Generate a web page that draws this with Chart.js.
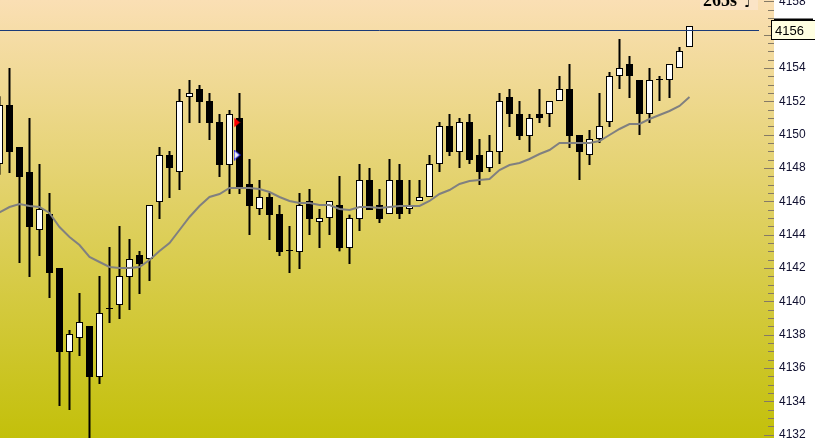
<!DOCTYPE html>
<html>
<head>
<meta charset="utf-8">
<script src="https://cdn.jsdelivr.net/npm/chart.js@4"></script>
<style>
  html, body { margin: 0; padding: 0; background: #ffffff; }
  #wrap { width: 815px; height: 438px; }
</style>
</head>
<body>
<div id="wrap"><canvas id="chart" width="815" height="438"></canvas></div>
<script>
// Candle data, one entry per bar
const opens = [4148.24, 4151.78, 4149.26, 4147.76, 4144.28, 4145.24, 4142.0, 4136.96, 4137.8, 4138.52,
    4135.46, 4139.54, 4139.78, 4141.46, 4142.78, 4142.54, 4145.96, 4148.78, 4147.76, 4152.26,
    4152.74, 4152.02, 4150.76, 4148.18, 4151.0, 4147.04, 4145.54, 4146.26, 4145.24, 4143.02,
    4142.96, 4146.02, 4144.76, 4145.0, 4145.78, 4143.2, 4144.94, 4147.28, 4145.78, 4145.24,
    4147.28, 4145.54, 4146.02, 4146.26, 4148.24, 4150.52, 4148.96, 4150.76, 4148.78, 4148.0,
    4148.96, 4152.26, 4151.24, 4149.92, 4151.24, 4151.24, 4152.02, 4152.74, 4149.98, 4148.78,
    4149.74, 4150.76, 4153.52, 4154.24, 4153.28, 4151.24, 4153.28, 4153.28, 4154.0, 4155.26];
const highs = [4152.3, 4154.0, 4149.26, 4151.0, 4148.24, 4146.5, 4142.0, 4138.28, 4140.5, 4138.52,
    4141.52, 4143.26, 4144.52, 4143.74, 4143.02, 4145.78, 4149.26, 4149.02, 4152.74, 4153.28,
    4152.98, 4152.5, 4151.24, 4151.48, 4152.5, 4148.54, 4147.28, 4146.5, 4145.78, 4144.52,
    4146.5, 4146.74, 4145.54, 4146.02, 4147.52, 4145.2, 4148.24, 4148.0, 4146.74, 4148.54,
    4148.24, 4147.28, 4147.28, 4148.78, 4150.76, 4151.24, 4151.0, 4151.24, 4149.74, 4149.98,
    4152.5, 4152.74, 4152.02, 4151.24, 4152.74, 4152.02, 4153.52, 4154.24, 4149.98, 4150.28,
    4152.5, 4153.76, 4155.74, 4154.72, 4153.28, 4154.0, 4153.52, 4154.24, 4155.26, 4156.52];
const lows = [4147.6, 4147.7, 4142.3, 4141.46, 4142.72, 4140.2, 4133.72, 4133.48, 4136.72, 4131.0,
    4135.04, 4138.7, 4138.94, 4139.48, 4140.44, 4141.22, 4144.94, 4146.2, 4146.68, 4150.7,
    4150.7, 4149.68, 4147.46, 4146.44, 4146.44, 4143.98, 4145.18, 4143.68, 4142.72, 4141.7,
    4141.94, 4143.98, 4143.2, 4143.98, 4143.0, 4142.24, 4144.22, 4145.48, 4144.7, 4145.24,
    4144.94, 4145.24, 4146.02, 4146.26, 4147.76, 4148.72, 4148.0, 4148.24, 4146.98, 4147.76,
    4148.24, 4150.46, 4149.68, 4148.96, 4150.7, 4150.46, 4152.02, 4149.2, 4147.28, 4148.18,
    4149.5, 4150.46, 4152.74, 4152.2, 4149.98, 4150.7, 4152.02, 4152.2, 4154.0, 4155.26];
const closes = [4151.78, 4148.96, 4147.46, 4144.46, 4145.54, 4141.7, 4136.96, 4138.04, 4138.76, 4135.46,
    4139.3, 4139.54, 4141.52, 4142.54, 4142.24, 4145.78, 4148.78, 4148.0, 4152.02, 4152.5,
    4151.96, 4150.7, 4148.18, 4151.24, 4146.74, 4145.72, 4146.26, 4145.18, 4142.96, 4143.02,
    4145.78, 4144.94, 4145.0, 4146.02, 4143.2, 4145.0, 4147.28, 4145.48, 4144.94, 4147.28,
    4145.24, 4145.78, 4146.26, 4148.24, 4150.52, 4148.96, 4150.76, 4148.48, 4147.76, 4149.02,
    4152.02, 4151.24, 4149.92, 4151.0, 4151.0, 4152.02, 4152.74, 4149.92, 4148.96, 4149.74,
    4150.52, 4153.52, 4154.0, 4153.52, 4151.24, 4153.28, 4153.28, 4154.24, 4155.02, 4156.52];

// Moving average (grey line)
const movingAvg = [4145.33, 4145.66, 4145.84, 4145.72, 4145.66, 4145.3, 4144.46, 4143.86, 4143.38, 4142.66,
    4142.36, 4142.06, 4142.0, 4142.0, 4142.06, 4142.48, 4143.02, 4143.5, 4144.28, 4145.06,
    4145.72, 4146.26, 4146.44, 4146.8, 4146.8, 4146.8, 4146.74, 4146.56, 4146.26, 4146.02,
    4145.9, 4145.9, 4145.78, 4145.78, 4145.54, 4145.48, 4145.66, 4145.66, 4145.6, 4145.66,
    4145.72, 4145.72, 4145.72, 4146.02, 4146.44, 4146.68, 4147.04, 4147.22, 4147.28, 4147.34,
    4147.88, 4148.18, 4148.3, 4148.54, 4148.84, 4149.08, 4149.5, 4149.5, 4149.5, 4149.5,
    4149.62, 4149.98, 4150.34, 4150.64, 4150.64, 4150.94, 4151.18, 4151.42, 4151.72, 4152.26];

// Signal markers (sell = red, buy = blue)
const sellSignalX = [23.75];
const sellSignalY = [4150.73];
const buySignalX = [23.75];
const buySignalY = [4148.78];

// Price axis labels and current price
const priceTicks = [4132, 4134, 4136, 4138, 4140, 4142, 4144, 4146, 4148, 4150, 4152, 4154, 4156, 4158];
const lastPrice = 4156.25;
const lastPriceLabel = '4156';
const timerText = '265s';

// Triangle markers drawn as little canvases
function makeTriangle(fill, stroke) {
    const c = document.createElement('canvas');
    c.width = 7;
    c.height = 11;
    const g = c.getContext('2d');
    g.beginPath();
    g.moveTo(0.5, 0.5);
    g.lineTo(6.5, 5.5);
    g.lineTo(0.5, 10.5);
    g.closePath();
    if (fill) { g.fillStyle = fill; g.fill(); }
    if (stroke) { g.strokeStyle = stroke; g.lineWidth = 1; g.stroke(); }
    return c;
}

const bodies = opens.map((o, i) => ({ x: i, y: [o, closes[i]] }));
const wicks = lows.map((l, i) => ({ x: i, y: [l, highs[i]] }));
const bodyColors = opens.map((o, i) => closes[i] > o ? '#ffffff' : '#000000');

// Background, price ticks, price line and timer box
const decorPlugin = {
    id: 'decor',
    beforeDraw(chart) {
        const ctx = chart.ctx;
        const area = chart.chartArea;
        ctx.save();
        ctx.fillStyle = '#ffffff';
        ctx.fillRect(0, 0, chart.width, chart.height);
        const grad = ctx.createLinearGradient(0, 0, 0, chart.height);
        grad.addColorStop(0, '#fadfb4');
        grad.addColorStop(1, '#c3c00a');
        ctx.fillStyle = grad;
        ctx.fillRect(0, 0, area.right + 10, chart.height);
        ctx.restore();
    },
    afterDraw(chart) {
        const ctx = chart.ctx;
        const area = chart.chartArea;
        const y = chart.scales.y;
        ctx.save();

        // tick marks every 0.5
        ctx.strokeStyle = '#857a66';
        ctx.lineWidth = 1;
        for (let v = Math.ceil(y.min * 2) / 2; v <= y.max; v += 0.5) {
            const py = Math.round(y.getPixelForValue(v)) + 0.5;
            const major = Math.abs(v % 2) < 0.01;
            ctx.beginPath();
            ctx.moveTo(area.right + (major ? 0 : 4), py);
            ctx.lineTo(area.right + 10, py);
            ctx.stroke();
        }

        // current price line
        const py = Math.round(y.getPixelForValue(lastPrice)) + 0.5;
        ctx.strokeStyle = '#1b3a78';
        ctx.beginPath();
        ctx.moveTo(0, py);
        ctx.lineTo(area.right - 5, py);
        ctx.stroke();

        // current price box
        ctx.fillStyle = '#ffffe1';
        ctx.fillRect(area.right + 7, py - 10, 50, 19);
        ctx.strokeStyle = '#000000';
        ctx.strokeRect(area.right + 7.5, py - 10, 50, 19);
        ctx.fillStyle = '#000000';
        ctx.fillRect(area.right + 10, py - 12, 39, 2);
        ctx.font = '13px "Liberation Sans", Arial, sans-serif';
        ctx.textBaseline = 'middle';
        ctx.textAlign = 'left';
        ctx.fillText(lastPriceLabel, area.right + 11, py + 0.5);

        // timer text at the top
        ctx.fillStyle = '#fbe4c6';
        ctx.fillRect(area.right - 64, 0, 58, 10);
        ctx.fillStyle = '#000000';
        ctx.font = 'bold 18px "Liberation Serif", "Times New Roman", serif';
        ctx.textBaseline = 'alphabetic';
        ctx.fillText(timerText, area.right - 61, 6);
        ctx.font = '14px "DejaVu Sans", sans-serif';
        ctx.fillText('\u2669', area.right - 20, 7);

        ctx.restore();
    }
};

const ctx = document.getElementById('chart').getContext('2d');
const chart = new Chart(ctx, {
    type: 'bar',
    data: {
        datasets: [{
            label: 'Wicks',
            data: wicks,
            backgroundColor: '#000000',
            barThickness: 2,
            grouped: false,
            inflateAmount: 0,
            order: 4
        }, {
            label: 'Bodies',
            data: bodies,
            backgroundColor: bodyColors,
            borderColor: '#000000',
            borderWidth: 1,
            borderSkipped: false,
            barThickness: 7,
            minBarLength: 1,
            grouped: false,
            inflateAmount: 0,
            order: 3
        }, {
            type: 'line',
            label: 'MA',
            data: movingAvg.map((v, i) => ({ x: i, y: v })),
            borderColor: '#808080',
            borderWidth: 2,
            pointRadius: 0,
            tension: 0,
            order: 2
        }, {
            type: 'scatter',
            label: 'Sell',
            data: sellSignalX.map((x, i) => ({ x: x, y: sellSignalY[i] })),
            pointStyle: makeTriangle('#ff0000', null),
            order: 1
        }, {
            type: 'scatter',
            label: 'Buy',
            data: buySignalX.map((x, i) => ({ x: x, y: buySignalY[i] })),
            pointStyle: makeTriangle('#eeeeee', '#0000ff'),
            order: 1
        }]
    },
    options: {
        responsive: false,
        animation: false,
        layout: { padding: 0, autoPadding: false },
        scales: {
            x: {
                type: 'linear',
                display: false,
                offset: false,
                grid: { offset: false },
                min: 0.05,
                max: 76.45
            },
            y: {
                position: 'right',
                min: 4131.8,
                max: 4158.08,
                grid: { display: false, drawTicks: false },
                border: { display: false },
                ticks: {
                    padding: 15,
                    color: '#101030',
                    font: { family: '"Liberation Sans", Arial, sans-serif', size: 12 },
                    callback: function(value) {
                        return String(value);
                    }
                },
                afterBuildTicks: function(scale) {
                    scale.ticks = priceTicks.map(v => ({ value: v }));
                },
                afterFit: function(scale) {
                    scale.width = 51;
                    scale.paddingTop = 0;
                    scale.paddingBottom = 0;
                }
            }
        },
        plugins: {
            legend: { display: false },
            tooltip: { enabled: false }
        }
    },
    plugins: [decorPlugin]
});
</script>
</body>
</html>
